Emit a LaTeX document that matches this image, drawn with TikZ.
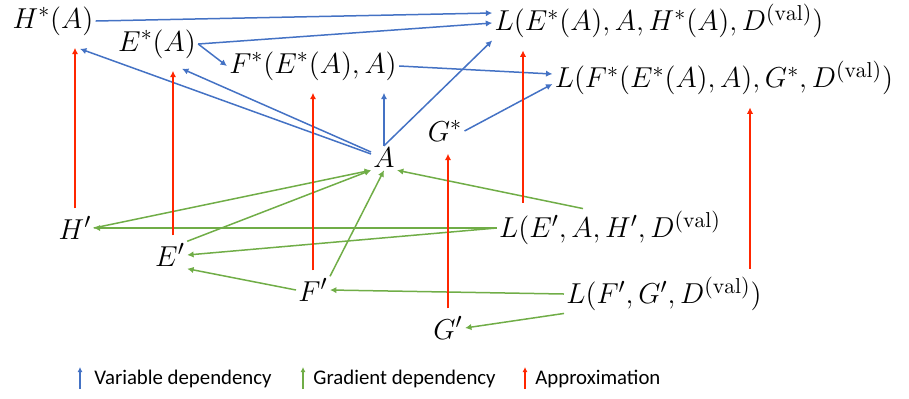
\documentclass[tikz,border=0pt]{standalone}
\usepackage{amsmath}
\usepackage{fontspec}
\newfontfamily\legendfont{Carlito}
\usepackage{xcolor}
\usepackage{tikz}
\usetikzlibrary{arrows.meta}
\definecolor{varblue}{RGB}{68,114,196}
\definecolor{gradgreen}{RGB}{112,173,71}
\definecolor{approxred}{RGB}{255,38,0}

\begin{document}
\begin{tikzpicture}[
  x=0.5pt,y=-0.5pt,
  term/.style={inner sep=1pt,font=\fontsize{15.4}{18}\selectfont},
  var/.style={draw=varblue,line width=0.75pt,-{Latex[length=3.2pt,width=3.2pt]}},
  grad/.style={draw=gradgreen,line width=0.75pt,-{Latex[length=3.2pt,width=3.2pt]}},
  approx/.style={draw=approxred,line width=0.75pt,-{Latex[length=3.2pt,width=3.2pt]},shorten <=3pt,shorten >=5pt},
  key/.style={anchor=west,inner sep=0pt,font=\legendfont\fontsize{10.4}{12}\selectfont}
]
  \useasboundingbox (0,0) rectangle (909,398);
  % optimal values
  \node[term] (Hs) at (53,21) {$H^*(A)$};
  \node[term] (Es) at (157,44) {$E^*(A)$};
  \node[term] (Fs) at (313,66) {$F^*(E^*(A),A)$};
  \node[term] (Gs) at (445,131) {$G^*$};
  \node[term] (A) at (384,158) {$A$};
  \node[term] (Le) at (659,21) {$L(E^*(A),A,H^*(A),D^{(\mathrm{val})})$};
  \node[term] (Lf) at (724,78) {$L(F^*(E^*(A),A),G^*,D^{(\mathrm{val})})$};
  % approximations
  \node[term] (Hp) at (75,228) {$H'$};
  \node[term] (Ep) at (170,255) {$E'$};
  \node[term] (Fp) at (313,290) {$F'$};
  \node[term] (Gp) at (448,328) {$G'$};
  \node[term] (Lep) at (610,228) {$L(E',A,H',D^{(\mathrm{val})}$};
  \node[term] (Lfp) at (664,294) {$L(F',G',D^{(\mathrm{val})})$};

  % variable dependency
  \draw[var] (Hs.east) -- ([yshift=4pt]Le.west);
  \draw[var] (Es.east) -- ([yshift=-1pt]Le.west);
  \draw[var] (Es.east) -- (Fs.west);
  \draw[var] ([yshift=2pt]A.west) -- ([xshift=13.5pt,yshift=-5.5pt]Hs.south);
  \draw[var] ([yshift=3pt]A.west) -- ([xshift=12.5pt,yshift=-4pt]Es.south);
  \draw[var] (A.north) -- ([yshift=-5pt]A.north |- Fs.south);
  \draw[var] (A.north) -- (Le.south west);
  \draw[var] (Fs.east) -- ([yshift=2pt]Lf.west);
  \draw[var] (Gs.east) -- ([yshift=-3pt]Lf.west);

  % gradient dependency
  \draw[grad] (Hp.east) -- (A.south west);
  \draw[grad] (Ep.north east) -- (A.south west);
  \draw[grad] (Fp.north east) -- (A.south);
  \draw[grad] ([xshift=-13.5pt]Lep.north) -- (A.south east);
  \draw[grad] (Lep.west) -- (Lep.west -| Hp.east);
  \draw[grad] (Lep.west) -- (Ep.east);
  \draw[grad] (Fp.west) -- (Ep.south east);
  \draw[grad] (Lfp.west) -- (Fp.east);
  \draw[grad] (Lfp.south west) -- (Gp.east);

  % approximation
  \draw[approx] (Hp.north) -- (Hp.north |- Hs.south);
  \draw[approx] ([xshift=1.5pt]Ep.north) -- ([xshift=1.5pt]Ep.north |- Es.south);
  \draw[approx] (Fp.north) -- (Fp.north |- Fs.south);
  \draw[approx] (Gp.north) -- (Gp.north |- Gs.south);
  \draw[approx] ([xshift=-43.5pt]Lep.north) -- ([xshift=-43.5pt]Lep.north |- Le.south);
  \draw[approx] ([xshift=43pt]Lfp.north) -- ([xshift=43pt]Lfp.north |- Lf.south);

  % legend
  \node[key] (kv) at (94,379) {Variable dependency};
  \node[key] (kg) at (313,379) {Gradient dependency};
  \node[key] (ka) at (535,379) {Approximation};
  \draw[var,-{Latex[length=2.5pt,width=2.5pt]}] ([xshift=-7pt,yshift=-5pt]kv.west) -- ++(0pt,11pt);
  \draw[grad,-{Latex[length=2.5pt,width=2.5pt]}] ([xshift=-5pt,yshift=-5pt]kg.west) -- ++(0pt,11pt);
  \draw[approx,-{Latex[length=2.5pt,width=2.5pt]},shorten <=0pt,shorten >=0pt] ([xshift=-5pt,yshift=-5pt]ka.west) -- ++(0pt,11pt);
\end{tikzpicture}
\end{document}
